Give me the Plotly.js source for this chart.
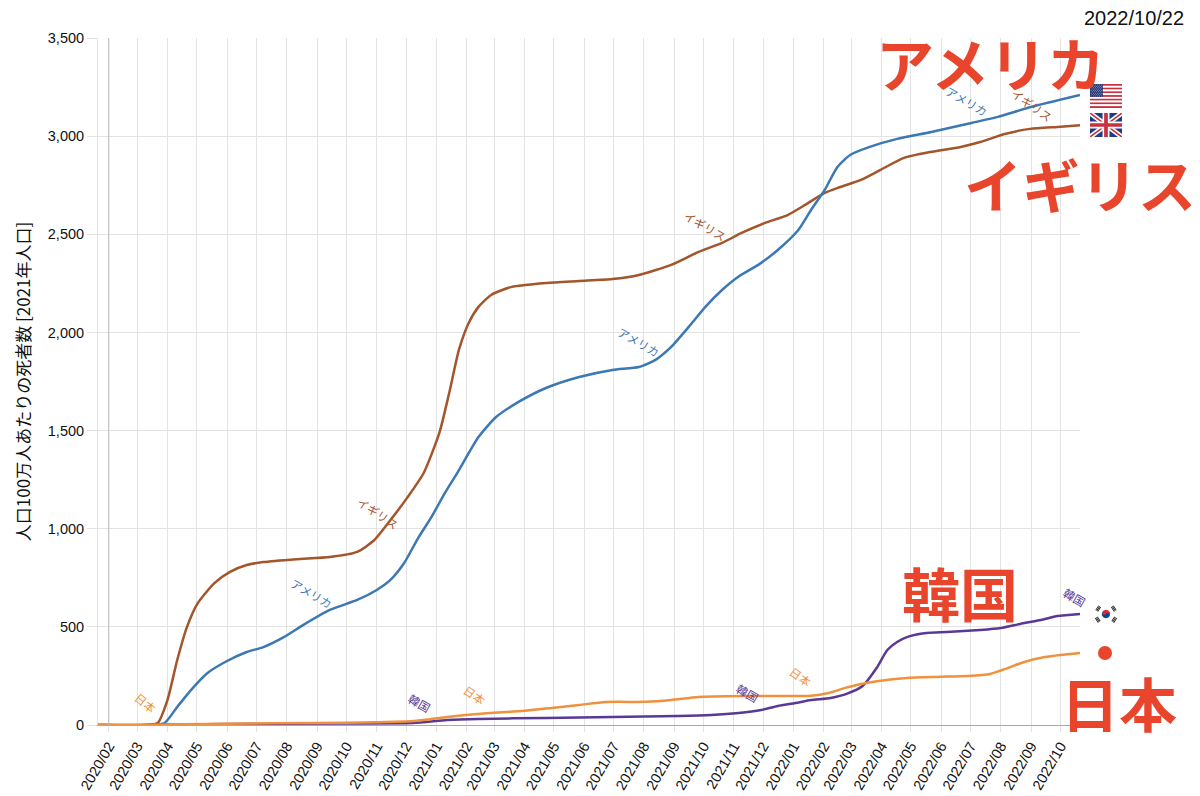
<!DOCTYPE html>
<html>
<head>
<meta charset="utf-8">
<script src="https://cdn.plot.ly/plotly-3.0.1.min.js"></script>
<style>
  html, body { margin: 0; padding: 0; background: #fff; }
  #chart { width: 1200px; height: 796px; }
</style>
</head>
<body>
<div id="chart"></div>
<script>
// 人口100万人あたりの累積死者数
var usDates = ['2020-01-21','2020-03-15','2020-03-29','2020-04-11','2020-04-25','2020-05-12','2020-05-30','2020-06-21','2020-07-08','2020-07-29','2020-08-18','2020-09-14','2020-10-12','2020-11-01','2020-11-15','2020-11-29','2020-12-13','2020-12-27','2021-01-10','2021-01-23','2021-02-13','2021-03-03','2021-03-26','2021-04-23','2021-05-27','2021-06-30','2021-07-27','2021-08-13','2021-08-29','2021-09-16','2021-10-03','2021-10-20','2021-11-06','2021-11-26','2021-12-16','2022-01-06','2022-01-19','2022-02-02','2022-02-15','2022-02-28','2022-03-20','2022-04-17','2022-05-22','2022-07-02','2022-07-29','2022-09-01','2022-10-21'];
var usValues = [0,0,10,92,178,265,321,372,397,448,510,586,637,688,739,825,950,1060,1185,1290,1467,1569,1646,1717,1773,1809,1824,1860,1926,2028,2130,2216,2285,2344,2420,2522,2624,2726,2843,2904,2945,2986,3021,3067,3098,3149,3210];

var ukDates = ['2020-01-21','2020-03-10','2020-03-22','2020-04-01','2020-04-11','2020-04-21','2020-05-02','2020-05-19','2020-06-04','2020-06-21','2020-07-08','2020-08-11','2020-09-14','2020-10-12','2020-10-29','2020-11-15','2020-12-02','2020-12-19','2021-01-04','2021-01-14','2021-01-24','2021-02-03','2021-02-13','2021-02-26','2021-03-19','2021-04-23','2021-05-27','2021-06-30','2021-07-27','2021-08-29','2021-09-26','2021-10-20','2021-11-09','2021-12-03','2021-12-26','2022-01-13','2022-02-02','2022-02-18','2022-03-11','2022-03-31','2022-04-24','2022-05-21','2022-06-21','2022-07-11','2022-08-05','2022-08-31','2022-09-28','2022-10-21'];
var ukValues = [0,0,10,127,331,500,621,723,780,815,830,845,856,882,940,1044,1157,1284,1488,1690,1911,2048,2130,2191,2232,2252,2262,2272,2293,2344,2410,2456,2507,2558,2598,2650,2711,2741,2777,2828,2889,2919,2945,2970,3011,3037,3047,3055];

var jpDates = ['2020-01-21','2020-03-01','2020-06-01','2020-09-01','2020-11-01','2020-12-08','2021-01-12','2021-01-31','2021-02-24','2021-03-29','2021-04-29','2021-05-27','2021-06-23','2021-08-03','2021-08-29','2021-09-26','2021-11-13','2022-01-19','2022-02-06','2022-02-23','2022-03-11','2022-03-29','2022-04-27','2022-05-28','2022-06-28','2022-07-21','2022-08-08','2022-08-25','2022-09-15','2022-10-01','2022-10-21'];
var jpValues = [0,0,7,10,14,20,41,51,61,71,87,102,117,118,127,143,148,149,163,189,209,224,239,245,250,260,290,321,346,357,367];

var krDates = ['2020-01-21','2020-03-01','2020-06-01','2020-10-01','2020-12-08','2021-01-12','2021-02-13','2021-04-23','2021-06-30','2021-09-05','2021-10-09','2021-11-06','2021-11-29','2021-12-16','2022-01-03','2022-01-19','2022-02-08','2022-02-25','2022-03-13','2022-03-27','2022-04-07','2022-04-17','2022-04-27','2022-05-17','2022-06-07','2022-07-11','2022-08-01','2022-08-21','2022-09-11','2022-09-28','2022-10-21'];
var krValues = [0,0,5,8,10,25,31,36,41,46,51,61,76,97,112,127,138,160,200,290,382,423,448,469,474,484,494,515,535,555,566];

var yTicks = [0, 500, 1000, 1500, 2000, 2500, 3000, 3500];

// 線の上の小さいラベル
var labelText = ['日本','韓国','アメリカ','イギリス','日本','韓国','日本','アメリカ','イギリス','アメリカ','イギリス','韓国'];
var labelDate = ['2020-03-10','2020-12-15','2020-08-26','2020-11-02','2021-02-09','2021-11-15','2022-01-09','2021-07-27','2021-10-03','2022-06-27','2022-09-02','2022-10-15'];
var labelValue = [112,112,673,1080,153,163,245,1951,2542,3179,3159,652];
var labelSeries = ['jp','kr','us','uk','jp','kr','jp','us','uk','us','uk','kr'];
var labelAngle = [38,30,30,34,35,30,35,30,30,30,35,30];

var colors = { us: '#3b78b4', uk: '#a3552b', jp: '#f0913d', kr: '#5a3996' };
var red = '#e8452c';
var jaFont = '"Noto Sans CJK JP", "Noto Sans", sans-serif';
var tickFont = '"Liberation Sans", Arial, sans-serif';

// 余白 (ピクセル) -> paper 座標の変換用
var W = 1200, H = 796;
var mL = 98, mR = 120, mT = 38, mB = 71;
function px(x) { return (x - mL) / (W - mL - mR); }
function py(y) { return (H - mB - y) / (H - mT - mB); }

function makeLine(x, y, color, name) {
    return {
        x: x,
        y: y,
        type: 'scatter',
        mode: 'lines',
        name: name,
        line: { color: color, width: 2.5, shape: 'spline', smoothing: 0.6 },
        hoverinfo: 'skip'
    };
}

var data = [
    makeLine(ukDates, ukValues, colors.uk, 'イギリス'),
    makeLine(usDates, usValues, colors.us, 'アメリカ'),
    makeLine(krDates, krValues, colors.kr, '韓国'),
    makeLine(jpDates, jpValues, colors.jp, '日本')
];

// 国旗 (SVG を data URI で)
function svgUri(s) { return 'data:image/svg+xml;charset=utf-8,' + encodeURIComponent(s); }

var usFlag = '<svg xmlns="http://www.w3.org/2000/svg" viewBox="0 0 247 130">';
for (var i = 0; i < 13; i++) {
    usFlag += '<rect x="0" y="' + (i * 10) + '" width="247" height="10" fill="' + (i % 2 === 0 ? '#c8313e' : '#ffffff') + '"/>';
}
usFlag += '<rect x="0" y="0" width="99" height="70" fill="#2a3a78"/>';
for (var r = 0; r < 9; r++) {
    for (var c = 0; c < (r % 2 === 0 ? 6 : 5); c++) {
        usFlag += '<circle cx="' + (8 + c * 16.5 + (r % 2) * 8.25) + '" cy="' + (5 + r * 7.5) + '" r="2.6" fill="#fff"/>';
    }
}
usFlag += '</svg>';

var ukFlag = '<svg xmlns="http://www.w3.org/2000/svg" viewBox="0 0 60 45">' +
    '<rect width="60" height="45" fill="#1f3c88"/>' +
    '<path d="M0,0 L60,45 M60,0 L0,45" stroke="#fff" stroke-width="9"/>' +
    '<path d="M0,0 L60,45 M60,0 L0,45" stroke="#c8313e" stroke-width="3"/>' +
    '<path d="M30,0 V45 M0,22.5 H60" stroke="#fff" stroke-width="13"/>' +
    '<path d="M30,0 V45 M0,22.5 H60" stroke="#c8313e" stroke-width="7"/>' +
    '</svg>';

var krFlag = '<svg xmlns="http://www.w3.org/2000/svg" viewBox="0 0 36 26">' +
    '<rect width="36" height="26" fill="#fff"/>' +
    '<g transform="rotate(33.7 18 13)">' +
    '<path d="M12,13 A6,6 0 0 1 24,13 Z" fill="#cd2e3a"/>' +
    '<path d="M12,13 A6,6 0 0 0 24,13 Z" fill="#0047a0"/>' +
    '<circle cx="15" cy="13" r="3" fill="#cd2e3a"/>' +
    '<circle cx="21" cy="13" r="3" fill="#0047a0"/>' +
    '</g>' +
    '<g fill="#111">' +
    '<g transform="rotate(-56.3 6 5)"><rect x="2" y="3" width="8" height="1.2"/><rect x="2" y="4.8" width="8" height="1.2"/><rect x="2" y="6.6" width="8" height="1.2"/></g>' +
    '<g transform="rotate(56.3 30 5)"><rect x="26" y="3" width="8" height="1.2"/><rect x="26" y="4.8" width="8" height="1.2"/><rect x="26" y="6.6" width="8" height="1.2"/></g>' +
    '<g transform="rotate(56.3 6 21)"><rect x="2" y="19" width="8" height="1.2"/><rect x="2" y="20.8" width="8" height="1.2"/><rect x="2" y="22.6" width="8" height="1.2"/></g>' +
    '<g transform="rotate(-56.3 30 21)"><rect x="26" y="19" width="8" height="1.2"/><rect x="26" y="20.8" width="8" height="1.2"/><rect x="26" y="22.6" width="8" height="1.2"/></g>' +
    '</g></svg>';

var images = [
    { source: svgUri(usFlag), xref: 'paper', yref: 'paper', x: px(1090), y: py(84), sizex: px(1122) - px(1090), sizey: py(84) - py(108), xanchor: 'left', yanchor: 'top', sizing: 'stretch', layer: 'above' },
    { source: svgUri(ukFlag), xref: 'paper', yref: 'paper', x: px(1090), y: py(113), sizex: px(1122) - px(1090), sizey: py(113) - py(137), xanchor: 'left', yanchor: 'top', sizing: 'stretch', layer: 'above' },
    { source: svgUri(krFlag), xref: 'paper', yref: 'paper', x: px(1094), y: py(605), sizex: px(1118) - px(1094), sizey: py(605) - py(623), xanchor: 'left', yanchor: 'top', sizing: 'stretch', layer: 'above' }
];

var annotations = [];
for (var k = 0; k < labelText.length; k++) {
    annotations.push({
        x: labelDate[k],
        y: labelValue[k],
        xref: 'x', yref: 'y',
        text: labelText[k],
        showarrow: false,
        textangle: labelAngle[k],
        font: { family: jaFont, size: 11.5, color: colors[labelSeries[k]] }
    });
}

// 大きな国名
function bigLabel(text, cx, cy) {
    return {
        x: px(cx), y: py(cy), xref: 'paper', yref: 'paper',
        text: '<b>' + text + '</b>', showarrow: false,
        xanchor: 'center', yanchor: 'middle',
        font: { family: jaFont, size: 58, color: red }
    };
}
annotations.push(bigLabel('アメリカ', 990, 62));
annotations.push(bigLabel('イギリス', 1080, 183));
annotations.push(bigLabel('韓国', 960, 592));
annotations.push(bigLabel('日本', 1119, 702));

// 日付
annotations.push({
    x: px(1186), y: py(18), xref: 'paper', yref: 'paper',
    text: '2022/10/22', showarrow: false,
    xanchor: 'right', yanchor: 'middle',
    font: { family: tickFont, size: 20, color: '#111' }
});

var shapes = [
    // 2020/02 の縦線 (少し濃い)
    { type: 'line', xref: 'x', yref: 'paper', x0: '2020-02-01', x1: '2020-02-01', y0: 0, y1: 1, line: { color: '#bdbdbd', width: 1 } },
    // 日の丸
    { type: 'circle', xref: 'paper', yref: 'paper', x0: px(1098), x1: px(1112), y0: py(660), y1: py(646), fillcolor: red, line: { width: 0 } }
];

var layout = {
    width: W,
    height: H,
    margin: { l: mL, r: mR, t: mT, b: mB },
    paper_bgcolor: '#fff',
    plot_bgcolor: '#fff',
    showlegend: false,
    xaxis: {
        type: 'date',
        range: ['2020-01-21', '2022-10-21'],
        tick0: '2020-02-01',
        dtick: 'M1',
        tickformat: '%Y/%m',
        tickangle: -60,
        tickfont: { family: tickFont, size: 14.5, color: '#111' },
        showgrid: true,
        gridcolor: '#e3e3e3',
        ticks: 'outside',
        ticklen: 6,
        tickcolor: '#e3e3e3',
        showline: true,
        linecolor: '#a8a8a8',
        zeroline: false
    },
    yaxis: {
        range: [0, 3500],
        tickvals: yTicks,
        tickformat: ',d',
        tickfont: { family: tickFont, size: 14.5, color: '#111' },
        showgrid: true,
        gridcolor: '#e3e3e3',
        ticks: 'outside',
        ticklen: 10,
        tickcolor: '#e3e3e3',
        showline: true,
        linecolor: '#e3e3e3',
        zeroline: false,
        title: {
            text: '人口100万人あたりの死者数 [2021年人口]',
            font: { family: jaFont, size: 17, color: '#111' },
            standoff: 12
        }
    },
    annotations: annotations,
    shapes: shapes,
    images: images
};

Plotly.newPlot('chart', data, layout, { displayModeBar: false, staticPlot: true });
</script>
</body>
</html>
